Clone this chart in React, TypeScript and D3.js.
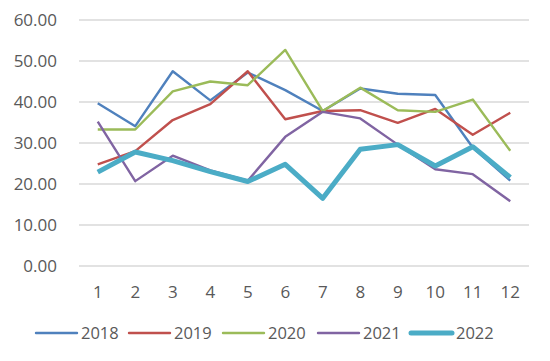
import React from "react";
import { scaleBand, scaleLinear, line } from "d3";

const months = ["1", "2", "3", "4", "5", "6", "7", "8", "9", "10", "11", "12"];
const yTicks = [0, 10, 20, 30, 40, 50, 60];

const s2018 = [39.7, 34.1, 47.5, 40.4, 47.2, 42.9, 37.8, 43.3, 42.0, 41.7, 28.9, 20.8];
const s2019 = [24.8, 28.0, 35.6, 39.5, 47.5, 35.8, 37.8, 38.0, 34.9, 38.3, 32.0, 37.4];
const s2020 = [33.3, 33.3, 42.6, 45.0, 44.1, 52.7, 37.8, 43.5, 38.0, 37.6, 40.6, 28.1];
const s2021 = [35.2, 20.7, 26.9, 23.3, 20.8, 31.5, 37.6, 36.0, 29.6, 23.6, 22.4, 15.8];
const s2022 = [22.9, 27.8, 25.7, 23.0, 20.6, 24.8, 16.5, 28.5, 29.6, 24.4, 29.1, 21.6];

const seriesNames = ["2018", "2019", "2020", "2021", "2022"];
const seriesData = [s2018, s2019, s2020, s2021, s2022];
const colors = ["#4f81bd", "#c0504d", "#9bbb59", "#8064a2", "#4bacc6"];
const widths = [2.4, 2.4, 2.4, 2.4, 5];

const W = 550;
const H = 361;
const font = "'Open Sans', sans-serif";

const App = () => {
  const x = scaleBand().domain(months).range([79, 529]);
  const y = scaleLinear().domain([0, 60]).range([266, 20]);

  const path = line<number>()
    .x((d, i) => (x(months[i]) as number) + x.bandwidth() / 2)
    .y((d) => y(d));

  const legendX = [36, 129, 223, 318, 411];

  return (
    <svg
      width={W}
      height={H}
      style={{ position: "absolute", left: 0, top: 0, background: "#fff" }}
    >
      {yTicks.map((t) => (
        <g key={t}>
          <line x1={79} x2={529} y1={y(t)} y2={y(t)} stroke="#d9d9d9" strokeWidth={1.5} />
          <text
            x={57}
            y={y(t)}
            dy="0.36em"
            textAnchor="end"
            fontFamily={font}
            fontSize={17}
            fill="#595959"
          >
            {t.toFixed(2)}
          </text>
        </g>
      ))}
      {months.map((m) => (
        <text
          key={m}
          x={(x(m) as number) + x.bandwidth() / 2}
          y={292}
          dy="0.36em"
          textAnchor="middle"
          fontFamily={font}
          fontSize={17}
          fill="#595959"
        >
          {m}
        </text>
      ))}
      {seriesData.map((s, i) => (
        <path
          key={seriesNames[i]}
          d={path(s) as string}
          fill="none"
          stroke={colors[i]}
          strokeWidth={widths[i]}
          strokeLinejoin="round"
        />
      ))}
      {seriesNames.map((n, i) => (
        <g key={n}>
          <line
            x1={legendX[i]}
            x2={legendX[i] + 41}
            y1={333}
            y2={333}
            stroke={colors[i]}
            strokeWidth={widths[i]}
            strokeLinecap="round"
          />
          <text
            x={legendX[i] + 45}
            y={333}
            dy="0.36em"
            fontFamily={font}
            fontSize={16.5}
            fill="#595959"
          >
            {n}
          </text>
        </g>
      ))}
    </svg>
  );
};

export default App;
